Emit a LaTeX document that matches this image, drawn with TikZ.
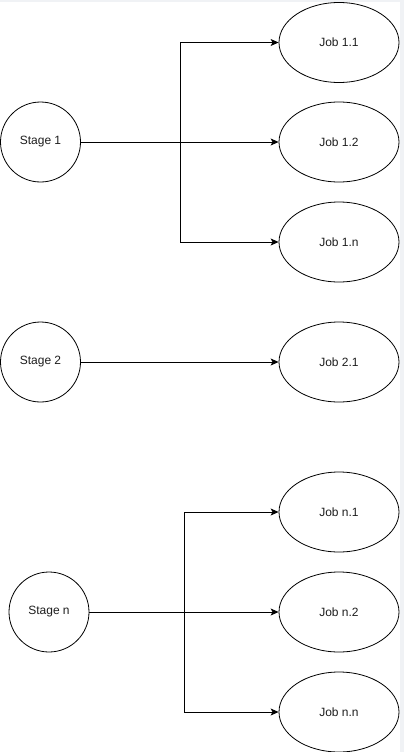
\documentclass[tikz,border=0pt]{standalone}
\usepackage{fontspec}
\setmainfont{Liberation Sans}
\usetikzlibrary{arrows.meta,shapes.geometric}
\definecolor{edgegray}{RGB}{240,242,245}
\definecolor{txt}{RGB}{30,30,30}
\begin{document}
\begin{tikzpicture}[x=1pt,y=-1pt,
  stagenode/.style={circle,draw,line width=0.8pt,minimum size=80pt,inner sep=0pt,font=\fontsize{12}{14}\selectfont,text=txt},
  jobnode/.style={ellipse,draw,line width=0.8pt,minimum width=120pt,minimum height=80pt,inner sep=0pt,font=\fontsize{12}{14}\selectfont,text=txt},
  conn/.style={line width=0.8pt,-{Stealth[length=8pt,width=7pt,inset=2pt]}}]
\useasboundingbox (0,0) rectangle (404,752);
\fill[white] (0,0) rectangle (404,752);
\fill[edgegray] (400,0) rectangle (404,752);
\fill[edgegray] (0,0) rectangle (404,2);
\node[stagenode] (s1) at (40.5,142) {Stage 1};
\node[stagenode] (s2) at (40.5,362) {Stage 2};
\node[stagenode] (sn) at (49,612) {Stage n};
\node[jobnode] (j11) at (339,42.5) {Job 1.1};
\node[jobnode] (j12) at (339,142) {Job 1.2};
\node[jobnode] (j1n) at (339,242) {Job 1.n};
\node[jobnode] (j21) at (339,362) {Job 2.1};
\node[jobnode] (jn1) at (339,512) {Job n.1};
\node[jobnode] (jn2) at (339,612) {Job n.2};
\node[jobnode] (jnn) at (339,712) {Job n.n};
\coordinate (b1) at (180,142);
\coordinate (bn) at (184.5,612);
\draw[conn] (s1) -- (j12);
\draw[conn] (s1.east) -- (b1) |- (j11.west);
\draw[conn] (s1.east) -- (b1) |- (j1n.west);
\draw[conn] (s2) -- (j21);
\draw[conn] (sn) -- (jn2);
\draw[conn] (sn.east) -- (bn) |- (jn1.west);
\draw[conn] (sn.east) -- (bn) |- (jnn.west);
\end{tikzpicture}
\end{document}
